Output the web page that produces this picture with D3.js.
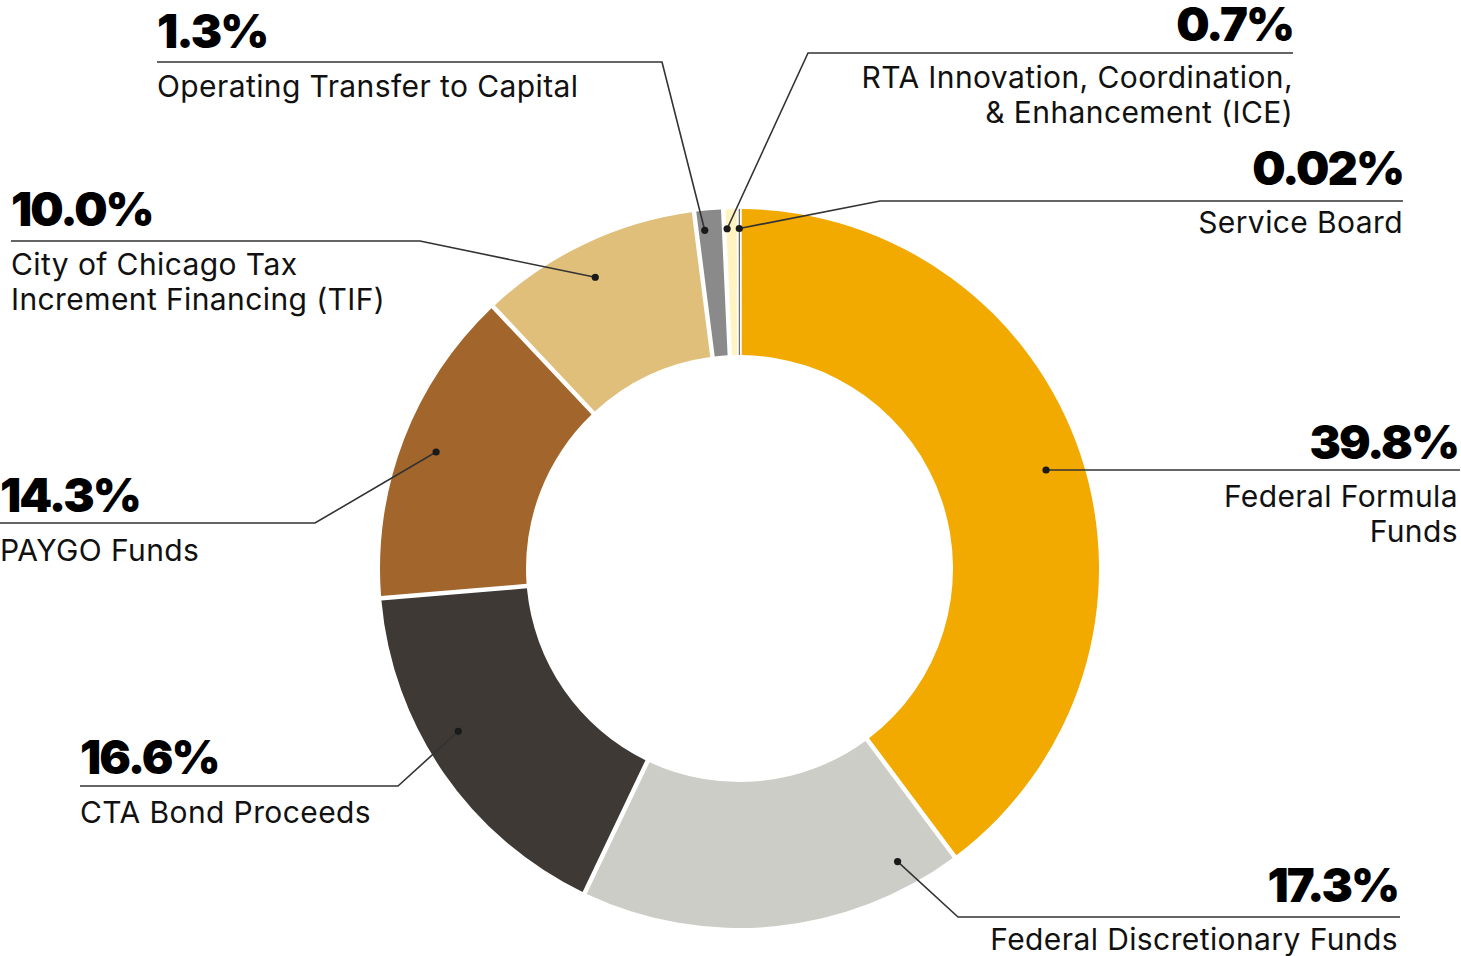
<!DOCTYPE html>
<html>
<head>
<meta charset="utf-8">
<script src="https://cdn.jsdelivr.net/npm/d3@7"></script>
<style>
  html, body { margin: 0; padding: 0; background: #fff; }
  svg { display: block; }
  .pct { font-family: Inter, "Noto Sans", sans-serif; font-weight: 900; font-size: 47px; letter-spacing: -2px; fill: #000; }
  .lbl { font-family: Inter, "Noto Sans", sans-serif; font-weight: 400; font-size: 30px; letter-spacing: 0.4px; fill: #111; }
</style>
</head>
<body>
<svg id="chart" width="1461" height="956"></svg>
<script>
// ---- data ----
const categories = [
  "Federal Formula Funds",
  "Federal Discretionary Funds",
  "CTA Bond Proceeds",
  "PAYGO Funds",
  "City of Chicago Tax Increment Financing (TIF)",
  "Operating Transfer to Capital",
  "RTA Innovation, Coordination, & Enhancement (ICE)",
  "Service Board"
];
const values = [39.8, 17.3, 16.6, 14.3, 10.0, 1.3, 0.7, 0.02];
const pctLabels = ["39.8%", "17.3%", "16.6%", "14.3%", "10.0%", "1.3%", "0.7%", "0.02%"];
const labelLines = [
  ["Federal Formula", "Funds"],
  ["Federal Discretionary Funds"],
  ["CTA Bond Proceeds"],
  ["PAYGO Funds"],
  ["City of Chicago Tax", "Increment Financing (TIF)"],
  ["Operating Transfer to Capital"],
  ["RTA Innovation, Coordination,", "& Enhancement (ICE)"],
  ["Service Board"]
];
const colors = ["#F2A900", "#CDCDC7", "#3E3935", "#A2652B", "#E0BF7B", "#8A8A8A", "#FFF3C2", "#555555"];

// ---- layout (annotation placement) ----
const layout = [
  { frac: 0.5,  r: 323, elbow: null,       lineY: 470, endX: 1460, x: 1458, anchor: "end",   pctY: 459, lblY: [507, 542] },
  { frac: 0.135,r: 333, elbow: [958, 917], lineY: 917, endX: 1400, x: 1398, anchor: "end",   pctY: 902, lblY: [950] },
  { frac: 0.576,r: 325, elbow: [398, 786], lineY: 786, endX: 80,   x: 80,   anchor: "start", pctY: 774, lblY: [823] },
  { frac: 0.5,  r: 325, elbow: [315, 523], lineY: 523, endX: 0,    x: 0,    anchor: "start", pctY: 512, lblY: [561] },
  { frac: 0.47, r: 325, elbow: [420, 241], lineY: 241, endX: 11,   x: 11,   anchor: "start", pctY: 226, lblY: [275, 310] },
  { frac: 0.3,  r: 340, elbow: [662, 62],  lineY: 62,  endX: 157,  x: 157,  anchor: "start", pctY: 48,  lblY: [97] },
  { frac: 0.2,  r: 340, elbow: [808, 53],  lineY: 53,  endX: 1293, x: 1293, anchor: "end",   pctY: 41,  lblY: [88, 123] },
  { frac: 0.5,  r: 340, elbow: [880, 201], lineY: 201, endX: 1403, x: 1403, anchor: "end",   pctY: 185, lblY: [233] }
];

const cx = 739.5, cy = 568.5, R = 359.5, r0 = 213.5;

const svg = d3.select("#chart");
const g = svg.append("g").attr("transform", `translate(${cx},${cy})`);

const pie = d3.pie().sort(null).value(d => d.v);
const data = values.map((v, i) => ({ v, i }));
const arcs = pie(data);

const arcPadded = d3.arc().innerRadius(r0).outerRadius(R).padRadius(300).padAngle(4.5 / 300);
const arcPlain = d3.arc().innerRadius(r0).outerRadius(R);

g.selectAll("path.slice")
  .data(arcs)
  .join("path")
  .attr("class", "slice")
  .attr("d", d => (d.endAngle - d.startAngle) < 0.01 ? arcPlain(d) : arcPadded(d))
  .attr("fill", d => colors[d.data.i])
  .attr("stroke", d => (d.endAngle - d.startAngle) < 0.01 ? colors[d.data.i] : "none")
  .attr("stroke-width", 0.6);

// annotations
const ann = svg.append("g");
arcs.forEach((d, i) => {
  const L = layout[i];
  const a = d.startAngle + (d.endAngle - d.startAngle) * L.frac;
  const px = cx + L.r * Math.sin(a);
  const py = cy - L.r * Math.cos(a);
  const pts = [[px, py]];
  if (L.elbow) pts.push(L.elbow);
  pts.push([L.endX, L.lineY]);
  if (!L.elbow) pts[0] = [px, L.lineY];
  ann.append("path")
    .attr("d", d3.line()(pts))
    .attr("fill", "none")
    .attr("stroke", "#333")
    .attr("stroke-width", 1.6);
  ann.append("circle")
    .attr("cx", pts[0][0]).attr("cy", pts[0][1]).attr("r", 3.6)
    .attr("fill", "#1a1a1a");
  ann.append("text")
    .attr("class", "pct")
    .attr("x", L.x).attr("y", L.pctY)
    .attr("text-anchor", L.anchor)
    .text(pctLabels[i]);
  labelLines[i].forEach((t, k) => {
    ann.append("text")
      .attr("class", "lbl")
      .attr("x", L.x).attr("y", L.lblY[k])
      .attr("text-anchor", L.anchor)
      .text(t);
  });
});
</script>
</body>
</html>
